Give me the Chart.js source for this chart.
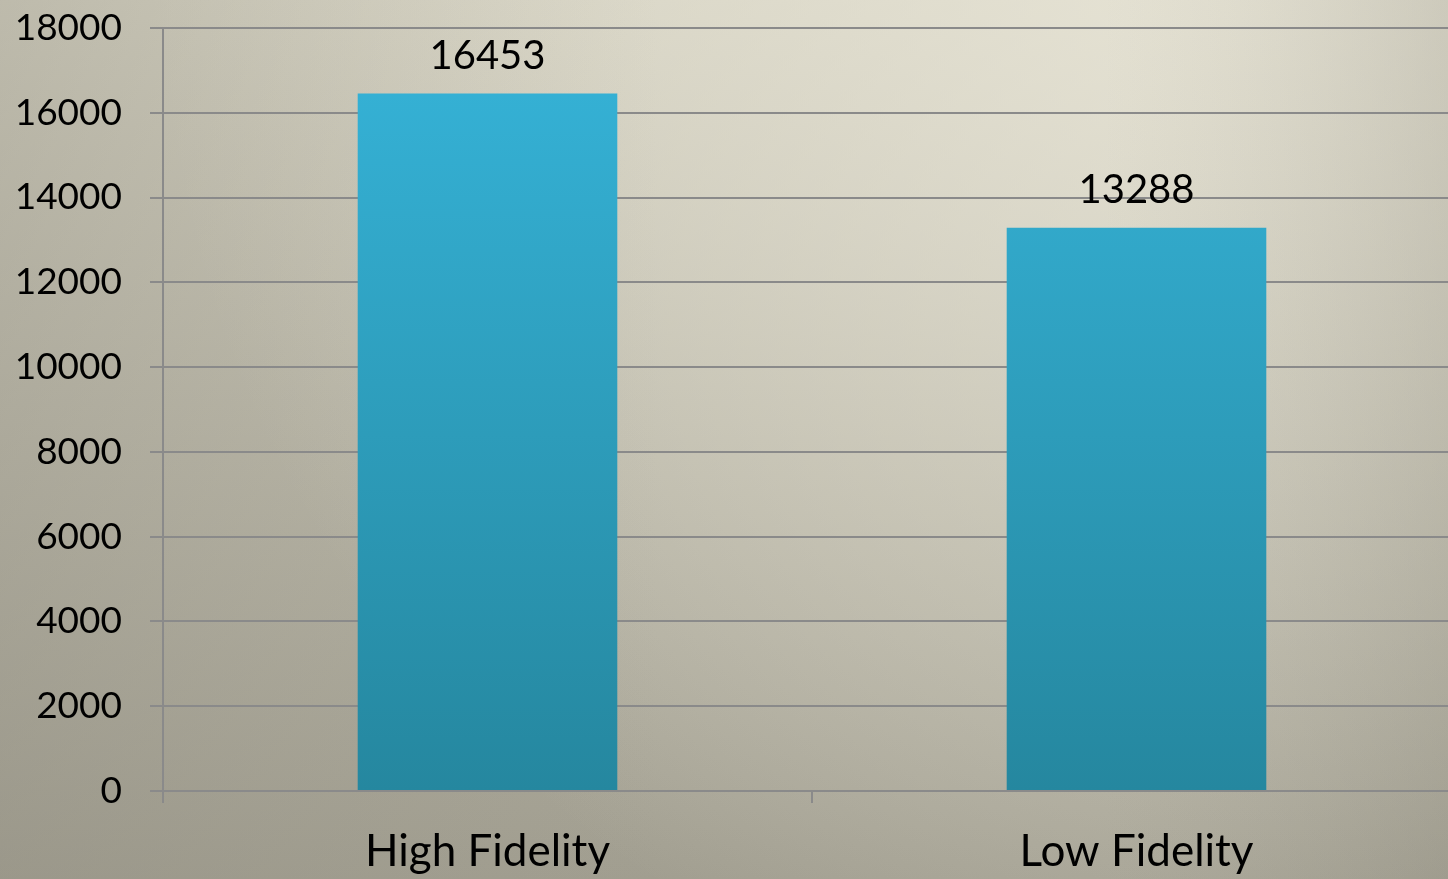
<!DOCTYPE html>
<html>
<head>
<meta charset="utf-8">
<script src="https://cdn.jsdelivr.net/npm/chart.js@4/dist/chart.umd.min.js"></script>
<style>
  html, body { margin: 0; padding: 0; overflow: hidden; width: 1448px; height: 879px; }
  #wrap { width: 1470px; height: 879px; position: relative; }
</style>
</head>
<body>
<div id="wrap"><canvas id="c" width="1470" height="879"></canvas></div>
<script>
const categories = ["High Fidelity", "Low Fidelity"];
const values = [16453, 13288];
const yTicks = [0, 2000, 4000, 6000, 8000, 10000, 12000, 14000, 16000, 18000];

const bgPlugin = {
  id: 'bg',
  beforeDraw(chart) {
    const ctx = chart.ctx;
    const w = chart.width, h = chart.height;
    ctx.save();
    const g = ctx.createLinearGradient(0, 0, 0, h);
    g.addColorStop(0, '#d3d0c0');
    g.addColorStop(1, '#a19e90');
    ctx.fillStyle = g;
    ctx.fillRect(0, 0, w, h);
    const r = ctx.createRadialGradient(1250, -40, 0, 1250, -40, 1100);
    r.addColorStop(0, 'rgba(235,232,218,0.8)');
    r.addColorStop(1, 'rgba(235,232,218,0)');
    ctx.fillStyle = r;
    ctx.fillRect(0, 0, w, h);
    const l = ctx.createLinearGradient(0, 0, w, 0);
    l.addColorStop(0, 'rgba(140,137,125,0.3)');
    l.addColorStop(0.45, 'rgba(150,147,135,0)');
    l.addColorStop(0.75, 'rgba(150,147,135,0)');
    l.addColorStop(1, 'rgba(110,107,95,0.2)');
    ctx.fillStyle = l;
    ctx.fillRect(0, 0, w, h);
    ctx.restore();
  }
};

const labelPlugin = {
  id: 'vlabels',
  afterDatasetsDraw(chart) {
    const ctx = chart.ctx;
    const meta = chart.getDatasetMeta(0);
    ctx.save();
    ctx.font = '40px Lato';
    ctx.fillStyle = '#000';
    ctx.textAlign = 'center';
    ctx.textBaseline = 'alphabetic';
    meta.data.forEach((bar, i) => {
      ctx.fillText(String(chart.data.datasets[0].data[i]), bar.x, bar.y - 25);
    });
    ctx.restore();
  }
};

new Chart(document.getElementById('c'), {
  type: 'bar',
  data: {
    labels: categories,
    datasets: [{
      data: values,
      backgroundColor(ctx) {
        const ca = ctx.chart.chartArea;
        if (!ca) return '#30a5c8';
        const g = ctx.chart.ctx.createLinearGradient(0, ca.top, 0, ca.bottom);
        g.addColorStop(0, '#36b4d9');
        g.addColorStop(1, '#25879f');
        return g;
      },
      borderWidth: 0,
      categoryPercentage: 0.4,
      barPercentage: 1.0
    }]
  },
  plugins: [bgPlugin, labelPlugin],
  options: {
    responsive: false,
    animation: false,
    events: [],
    layout: { padding: { left: 0, right: 9, top: 28, bottom: 0 } },
    plugins: { legend: { display: false }, tooltip: { enabled: false } },
    scales: {
      x: {
        grid: { drawOnChartArea: false, drawTicks: true, tickLength: 12, color: '#8a8a8a', lineWidth: 2 },
        border: { display: false },
        ticks: { color: '#000', font: { family: 'Lato', size: 44 }, padding: 22 },
        afterFit(s) { s.height = 88; }
      },
      y: {
        min: 0, max: 18000,
        afterBuildTicks(s) { s.ticks = yTicks.map(v => ({ value: v })); },
        grid: { color: '#8a8a8a', lineWidth: 2, tickLength: 13 },
        border: { display: true, color: '#8a8a8a', width: 2 },
        ticks: { color: '#000', font: { family: 'Lato', size: 37 }, padding: 28, callback: v => String(v) },
        afterFit(s) { s.width = 163; s.paddingTop = 0; s.paddingBottom = 0; }
      }
    }
  }
});
</script>
</body>
</html>
